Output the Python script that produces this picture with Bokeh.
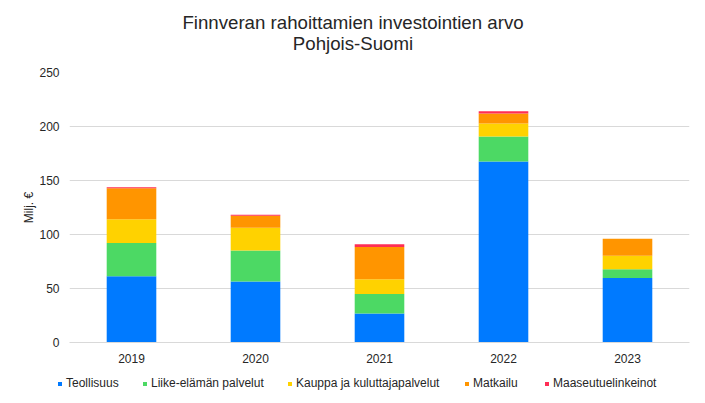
from bokeh.plotting import figure
from bokeh.layouts import column
from bokeh.models import (Range1d, FactorRange, Legend, LegendItem,
                          SingleIntervalTicker, ColumnDataSource)
from bokeh.core.properties import value
from bokeh.embed import file_html
from bokeh.resources import INLINE

years = ["2019", "2020", "2021", "2022", "2023"]
series = ["Teollisuus", "Liike-elämän palvelut", "Kauppa ja kuluttajapalvelut",
          "Matkailu", "Maaseutuelinkeinot"]
teollisuus = [61.3, 56.5, 26.9, 167.7, 59.8]
liike = [30.8, 28.8, 18.1, 23.1, 8.0]
kauppa = [22.1, 21.0, 13.6, 12.0, 12.6]
matkailu = [28.6, 11.0, 29.8, 9.2, 15.7]
maaseutu = [0.9, 1.0, 2.5, 2.2, 0.0]
colors = ["#007AFF", "#4CD964", "#FFD200", "#FF9500", "#FF2D55"]

title_lines = ["Finnveran rahoittamien investointien arvo", "Pohjois-Suomi"]
ylabel = "Milj. €"

FONT = "Liberation Sans"
TXT = "#262626"
W = 697
LEGEND_X = [57, 142, 287, 464, 544]   # legend entry positions (layout, px)


def strip(h):
    f = figure(width=W, height=h, x_range=Range1d(0, W), y_range=Range1d(h, 0),
               output_backend="svg", toolbar_location=None, title=None,
               x_axis_type=None, y_axis_type=None,
               min_border_left=0, min_border_right=0, min_border_top=0,
               min_border_bottom=0)
    f.grid.visible = False
    f.outline_line_color = None
    f.background_fill_color = "white"
    f.border_fill_color = "white"
    f.frame_align = False
    return f


# title strip (y measured from the top)
tf = strip(64)
tf.text(x=[W / 2 + 4, W / 2 + 4], y=[21.7, 43.0], text=title_lines,
        text_align="center", text_baseline="middle",
        text_font=value(FONT), text_font_size="18.67px", text_color=TXT)

# main chart
src = ColumnDataSource(dict(year=years, s0=teollisuus, s1=liike, s2=kauppa,
                            s3=matkailu, s4=maaseutu))
p = figure(width=W, height=303, x_range=FactorRange(*years),
           y_range=Range1d(0, 250), output_backend="svg",
           toolbar_location=None, title=None,
           min_border_left=69, min_border_right=8,
           min_border_top=8, min_border_bottom=25)
p.frame_align = False
p.outline_line_color = None
p.background_fill_color = "white"
p.border_fill_color = "white"

rs = p.vbar_stack(["s0", "s1", "s2", "s3", "s4"], x="year", width=0.4,
                  color=colors, source=src, line_color=None)

p.yaxis.ticker = SingleIntervalTicker(interval=50)
p.yaxis.axis_line_color = None
p.yaxis.major_tick_line_color = None
p.yaxis.minor_tick_line_color = None
p.yaxis.major_label_standoff = 4
p.yaxis.major_label_text_font = FONT
p.yaxis.major_label_text_font_size = "12px"
p.yaxis.major_label_text_color = TXT
p.yaxis.axis_label = ylabel
p.yaxis.axis_label_text_font = FONT
p.yaxis.axis_label_text_font_size = "12px"
p.yaxis.axis_label_text_font_style = "normal"
p.yaxis.axis_label_text_color = TXT
p.yaxis.axis_label_standoff = 0

p.xaxis.axis_line_color = "#d9d9d9"
p.xaxis.major_tick_line_color = None
p.xaxis.minor_tick_line_color = None
p.xaxis.major_label_standoff = 5
p.xaxis.major_label_text_font = FONT
p.xaxis.major_label_text_font_size = "12px"
p.xaxis.major_label_text_color = TXT

p.xgrid.grid_line_color = None
p.ygrid.grid_line_color = "#d9d9d9"
p.ygrid.grid_line_width = 1

# legend strip: one entry per series
pl = strip(28)
for s, c, lx in zip(series, colors, LEGEND_X):
    r = pl.quad(left=[-3], right=[-2], bottom=[-3], top=[-2], color=c, line_color=None)
    lg = Legend(items=[LegendItem(label=s, renderers=[r])],
                orientation="horizontal", location=(lx, 5),
                glyph_width=5, glyph_height=5, label_standoff=4,
                label_height=14, label_text_font=FONT, label_text_font_size="12px",
                label_text_color=TXT, padding=0, margin=0,
                border_line_color=None, background_fill_alpha=0)
    pl.add_layout(lg, "center")

open("out.html", "w").write(file_html(column(tf, p, pl, spacing=0), INLINE))
